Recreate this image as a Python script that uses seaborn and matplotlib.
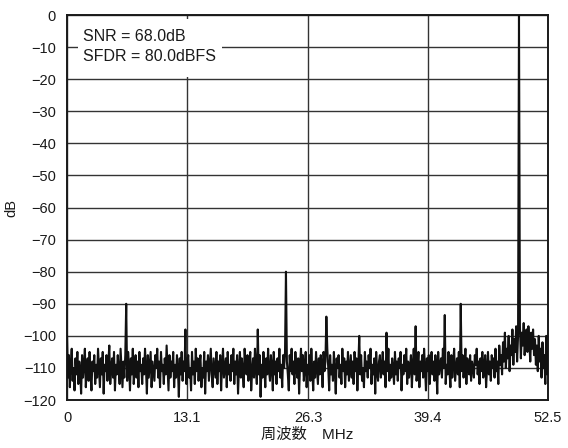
import numpy as np
import pandas as pd
import matplotlib
matplotlib.use("Agg")
import matplotlib.pyplot as plt
from matplotlib.patches import Rectangle
import seaborn as sns

# ---- data ----
f_max_mhz = 52.5
noise_db = [
    -100, -113, -106, -116, -109, -104, -114, -110, -117, -107, -112, -105, -115, -108, -111, -118,
    -106, -113, -109, -104, -116, -110, -107, -114, -105, -112, -117, -108, -111, -106, -115, -109,
    -113, -104, -110, -116, -107, -112, -105, -118, -109, -111, -106, -114, -108, -103, -115, -110,
    -107, -113, -105, -117, -109, -112, -106, -111, -115, -104, -110, -116, -108, -113, -106, -111,
    -114, -105, -109, -117, -107, -112, -104, -115, -110, -106, -113, -108, -116, -105, -111, -109,
    -115, -107, -112, -104, -110, -118, -106, -113, -109, -105, -116, -108, -111, -114, -106, -110,
    -104, -113, -108, -116, -105, -111, -109, -115, -107, -112, -103, -110, -117, -106, -113, -108,
    -111, -105, -116, -109, -113, -106, -110, -119, -107, -112, -105, -114, -108, -111, -104, -115,
    -109, -106, -113, -110, -117, -105, -112, -108, -115, -104, -111, -107, -114, -109, -106, -116,
    -110, -113, -105, -118, -108, -111, -106, -114, -109, -104, -112, -116, -107, -110, -113, -105,
    -115, -108, -111, -106, -117, -109, -104, -113, -110, -107, -116, -105, -112, -109, -114, -106,
    -111, -104, -115, -108, -112, -106, -118, -110, -105, -113, -107, -111, -116, -104, -109, -112,
    -106, -114, -109, -105, -117, -111, -107, -113, -104, -110, -115, -108, -112, -106, -119, -109,
    -113, -105, -110, -116, -107, -112, -104, -111, -114, -106, -109, -117, -105, -112, -108, -115,
    -107, -111, -104, -113, -109, -116, -106, -110, -105, -114, -108, -112, -117, -106, -111, -104,
    -112, -108, -115, -105, -110, -113, -107, -118, -109, -104, -111, -106, -114, -110, -105, -116,
    -109, -112, -106, -114, -104, -111, -117, -108, -113, -105, -110, -115, -107, -112, -106, -109,
    -116, -105, -111, -108, -113, -104, -110, -117, -106, -112, -109, -114, -105, -111, -118, -107,
    -110, -106, -113, -109, -115, -104, -111, -107, -116, -108, -112, -105, -114, -110, -106, -113,
    -108, -115, -105, -111, -107, -117, -109, -104, -112, -106, -114, -110, -116, -105, -111, -108,
    -113, -106, -110, -104, -115, -109, -112, -107, -118, -105, -111, -114, -108, -106, -113, -110,
    -105, -112, -108, -116, -106, -111, -104, -114, -109, -113, -107, -110, -115, -105, -112, -108,
    -114, -107, -110, -105, -117, -109, -112, -106, -111, -104, -115, -108, -113, -110, -106, -116,
    -109, -104, -112, -107, -114, -110, -105, -116, -108, -111, -106, -113, -104, -110, -117, -107,
    -111, -106, -115, -109, -105, -112, -108, -114, -106, -110, -118, -105, -112, -109, -107, -113,
    -104, -110, -107, -115, -109, -112, -105, -111, -116, -106, -113, -108, -104, -114, -110, -107,
    -112, -105, -116, -108, -111, -106, -113, -109, -104, -115, -107, -110, -112, -106, -114, -108,
    -110, -113, -106, -109, -104, -112, -108, -115, -107, -111, -105, -113, -109, -106, -116, -110,
    -105, -112, -108, -114, -106, -110, -107, -113, -104, -111, -108, -115, -103, -109, -106, -112,
    -102, -108, -99, -110, -104, -107, -100, -111, -103, -106, -98, -109, -101, -105, -97, -108,
    -100, -104, -97, -107, -99, -103, -96, -106, -101, -98, -105, -97, -102, -108, -99, -104,
    -98, -106, -101, -109, -103, -111, -100, -108, -104, -113, -102, -110, -106, -115, -100, -112,
    -105,
]
spur_freqs_mhz = [6.44, 12.95, 20.8, 23.9, 28.34, 31.88, 34.9, 38.06, 41.2, 43.0, 49.34]
spur_db = [-90, -98, -98, -80, -94, -100, -99, -97, -93.5, -90, 0]
x_ticks = [0, 13.1, 26.3, 39.4, 52.5]
x_tick_labels = ["0", "13.1", "26.3", "39.4", "52.5"]
y_ticks = list(range(-120, 1, 10))
annotation = "SNR = 68.0dB\nSFDR = 80.0dBFS"

# ---- assemble spectrum ----
freqs = np.linspace(0, f_max_mhz, len(noise_db))
level = np.array(noise_db, dtype=float)
for f, d in zip(spur_freqs_mhz, spur_db):
    idx = int(np.argmin(np.abs(freqs - f)))
    level[idx] = d
df = pd.DataFrame({"freq": freqs, "db": level})

# ---- style ----
sns.set_style("white")
plt.rcParams["font.family"] = ["Liberation Sans", "Noto Sans CJK JP"]
plt.rcParams["axes.unicode_minus"] = True

ink = "#1a1a1a"
fig = plt.figure(figsize=(5.68, 4.48), dpi=100)
ax = fig.add_axes([0.118, 0.107, 0.847, 0.8595])

sns.lineplot(data=df, x="freq", y="db", ax=ax, color="#111111", linewidth=1.5,
             estimator=None, sort=False, zorder=3)

ax.set_xlim(0, f_max_mhz)
ax.set_ylim(-120, 0)
ax.set_xticks(x_ticks)
ax.set_xticklabels(x_tick_labels)
ax.set_yticks(y_ticks)
ax.set_yticklabels([str(v).replace("-", "\u2212") for v in y_ticks])
ax.tick_params(axis="both", length=0, labelsize=10.5, colors=ink)
ax.tick_params(axis="x", pad=8)
ax.tick_params(axis="y", pad=8)
ax.grid(True, color="#333333", linewidth=1.0)
ax.set_axisbelow(True)
for s in ax.spines.values():
    s.set_color(ink)
    s.set_linewidth(1.4)
    s.set_visible(True)

ax.set_xlabel("周波数\u3000MHz", fontsize=11, color=ink, labelpad=2)
ax.set_ylabel("dB", fontsize=10.5, color=ink, labelpad=3)

# white panel behind the annotation (covers the grid)
ax.add_patch(Rectangle((0.023, 0.839), 0.299, 0.151, transform=ax.transAxes,
                       facecolor="white", edgecolor="none", zorder=2.5))
ax.text(0.033, 0.964, annotation, transform=ax.transAxes, fontsize=11.5,
        va="top", ha="left", color=ink, linespacing=1.4, zorder=4)

fig.savefig("out.png", dpi=100)
